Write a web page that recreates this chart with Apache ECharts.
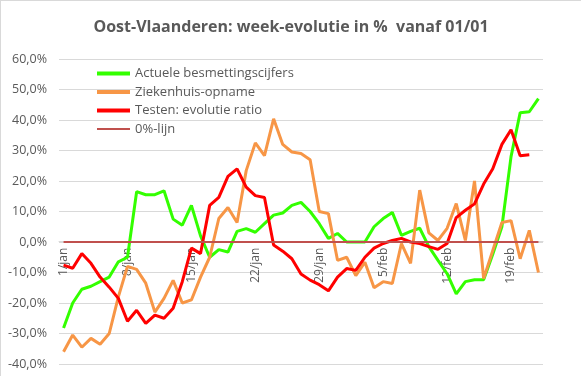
<!DOCTYPE html>
<html>
<head>
<meta charset="utf-8">
<script src="https://cdn.jsdelivr.net/npm/echarts@6/dist/echarts.min.js"></script>
<style>
  html, body { margin: 0; padding: 0; background: #fff; }
  #chart { width: 581px; height: 376px; box-sizing: border-box; border-top: 1px solid #d9d9d9; border-left: 1px solid #d9d9d9; }
</style>
</head>
<body>
<div id="chart"></div>
<script>
// 1/jan .. 22/feb
const days = []
for (let d = 1; d <= 31; d++) days.push(d + '/jan')
for (let d = 1; d <= 22; d++) days.push(d + '/feb')

const besmettingen = [
  -28.2, -20, -15.5, -14.5, -13, -11.5, -6.5, -5, 16.5, 15.5,
  15.5, 16.8, 7.5, 5.5, 12, 2, -5, -2.5, -3.3, 3.5,
  4.4, 3.2, 6, 8.8, 9.5, 12, 13, 10, 6, 1.2,
  2.8, 0, 0, 0, 5, 7.7, 9.7, 2.2, 3.5, 4.5,
  -1.5, -6, -10.4, -17, -13, -12.4, -12.4, -4, 5, 28,
  42.4, 42.7, 47
]
const ziekenhuis = [
  -36, -30.5, -34.5, -31.6, -33.5, -30, -18, -8, -9, -13.5,
  -23, -18.5, -12.6, -20, -19, -11.5, -5, 7.7, 11.3, 6.4,
  23.4, 32.5, 28.3, 40.4, 32, 29.5, 29, 27, 10, 9.3,
  -6, -5, -11, -6.6, -15, -13, -13.6, -0.5, -7, 17,
  3, 0.5, 4.5, 12.6, 0.5, 20, -12, -2.8, 6.4, 7,
  -5.5, 3.8, -10
]
const testen = [
  -7.6, -8.6, -3.8, -7, -11.5, -14.8, -18.5, -26, -22.4, -26.7,
  -24, -25, -21.7, -13, -2, -3.8, 12, 14.6, 21.5, 24,
  18, 15.2, 14.6, -1, -3, -5.5, -10.5, -12.5, -14, -16,
  -11.5, -8.7, -9.3, -5, -2, -0.5, 0.5, 1.2, 0, -0.5,
  -1.5, -2.4, -0.5, 8, 10.4, 12.5, 19, 24, 32, 36.8,
  28.3, 28.6, null
]
const nulLijn = days.map(() => 0)

const textColor = '#595959'
const chart = echarts.init(document.getElementById('chart'))

// y-range -40..60 over a 306px plot: zero line sits 122.4px above the bottom
const yMin = -40, yMax = 60
const plotH = 376 - 58 - 12
const zeroOffset = -plotH * (0 - yMin) / (yMax - yMin)

function lineSeries(name, data, color, width) {
  return {
    name: name,
    type: 'line',
    data: data,
    symbol: 'none',
    lineStyle: { color: color, width: width },
    itemStyle: { color: color },
    emphasis: { disabled: true }
  }
}

const thick = 'path://M0,0L33,0L33,4L0,4Z'
const thin = 'path://M0,0L33,0L33,2L0,2Z'

chart.setOption({
  animation: false,
  textStyle: { fontFamily: 'Open Sans, sans-serif' },
  title: {
    text: 'Oost-Vlaanderen: week-evolutie in %  vanaf 01/01',
    left: 'center',
    top: 13,
    textStyle: { color: textColor, fontSize: 16, fontWeight: 'bold', fontFamily: 'Open Sans, sans-serif' }
  },
  legend: {
    orient: 'vertical',
    left: 91,
    top: 61,
    itemWidth: 33,
    itemHeight: 14,
    itemGap: 5.5,
    textStyle: { color: textColor, fontSize: 13 },
    data: [
      { name: 'Actuele besmettingscijfers', icon: thick },
      { name: 'Ziekenhuis-opname', icon: thick },
      { name: 'Testen: evolutie ratio', icon: thick },
      { name: '0%-lijn', icon: thin }
    ]
  },
  grid: { left: 58, right: 38, top: 58, bottom: 12 },
  xAxis: {
    type: 'category',
    data: days,
    boundaryGap: true,
    offset: zeroOffset,
    axisLine: { onZero: false, lineStyle: { color: '#d9d9d9' } },
    axisTick: { interval: 6, length: 5, lineStyle: { color: '#bfbfbf' } },
    axisLabel: { interval: 6, rotate: 90, color: textColor, fontSize: 12, margin: 6 }
  },
  yAxis: {
    type: 'value',
    min: yMin,
    max: yMax,
    interval: 10,
    axisLine: { show: false },
    axisTick: { show: false },
    splitLine: { lineStyle: { color: '#d9d9d9' } },
    axisLabel: {
      color: textColor,
      fontSize: 12.5,
      margin: 12,
      formatter: v => v.toFixed(1).replace('.', ',') + '%'
    }
  },
  series: [
    lineSeries('Actuele besmettingscijfers', besmettingen, '#33ff00', 3),
    lineSeries('Ziekenhuis-opname', ziekenhuis, '#f79646', 3),
    lineSeries('Testen: evolutie ratio', testen, '#ff0000', 3),
    lineSeries('0%-lijn', nulLijn, '#c0504d', 2)
  ]
})
</script>
</body>
</html>
